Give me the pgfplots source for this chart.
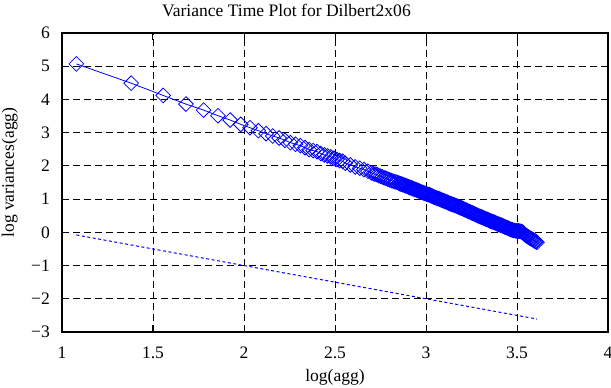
\documentclass[border=0pt]{standalone}
\usepackage{fontspec}
\setmainfont{Liberation Serif}
\usepackage{pgfplots}
\pgfplotsset{compat=1.18}
\usetikzlibrary{calc}
\definecolor{pblue}{RGB}{0,0,255}
\begin{document}
\fontsize{17.6}{20}\selectfont
\begin{tikzpicture}
\begin{axis}[
  name=ax,
  scale only axis=true,
  width=546bp, height=299bp,
  xmin=1, xmax=4, ymin=-3, ymax=6,
  xtick={1,1.5,2,2.5,3,3.5,4},
  xticklabels={1,1.5,2,2.5,3,3.5,4},
  ytick={-3,-2,-1,0,1,2,3,4,5,6},
  yticklabels={−3,−2,−1,0,1,2,3,4,5,6},
  tick pos=both,
  tick align=inside,
  major tick length=7bp,
  every tick/.style={black, line width=1bp},
  axis line style={black, line width=1.3bp},
  grid=major,
  major grid style={black, line width=0.9bp, dash pattern=on 7bp off 4bp},
  xticklabel style={anchor=base, yshift=-26bp, inner sep=0pt},
  yticklabel style={anchor=east, xshift=-12bp, inner sep=0pt},
  every axis title shift=0pt,
  title={Variance Time Plot for Dilbert2x06},
  title style={at={(axis description cs:0.411,1.054)}, anchor=base, inner sep=0pt},
  xlabel={log(agg)},
  xlabel style={at={(axis description cs:0.5,-0.164)}, anchor=base, inner sep=0pt},
  ylabel={log variances(agg)},
  ylabel style={at={(axis description cs:-0.088,0.533)}, anchor=base, inner sep=0pt},
  clip=false,
  mymark/.style={mark=square, mark options={rotate=45, solid, line width=0.8bp, fill=none}, mark size=5.2bp},
]
\addplot[pblue, line width=0.8bp, mymark] coordinates {
(1.079,5.07) (1.380,4.49) (1.556,4.12) (1.681,3.86) (1.778,3.68) (1.857,3.51)
(1.924,3.38) (1.982,3.25) (2.033,3.15) (2.079,3.06) (2.121,2.97) (2.158,2.90)
(2.193,2.84) (2.225,2.77) (2.255,2.70) (2.283,2.65) (2.310,2.61) (2.335,2.55)
(2.358,2.49) (2.380,2.46) (2.401,2.43) (2.422,2.37) (2.441,2.33) (2.459,2.30)
(2.477,2.27) (2.494,2.23) (2.511,2.19) (2.526,2.16) (2.542,2.14) (2.556,2.08)
(2.584,2.03) (2.611,1.97) (2.636,1.93) (2.659,1.89) (2.681,1.84)
(2.70,1.79) (2.71,1.77) (2.72,1.75) (2.73,1.74) (2.74,1.71) (2.75,1.69)
(2.76,1.67) (2.77,1.64) (2.78,1.63) (2.79,1.60) (2.80,1.58) (2.81,1.56)
(2.82,1.54) (2.83,1.52) (2.84,1.51) (2.85,1.48) (2.86,1.46) (2.87,1.44)
(2.88,1.42) (2.89,1.40) (2.90,1.38) (2.91,1.35) (2.92,1.34) (2.93,1.31)
(2.94,1.29) (2.95,1.27) (2.96,1.25) (2.97,1.22) (2.98,1.20) (2.99,1.18)
(3.00,1.16) (3.01,1.14) (3.02,1.13) (3.03,1.10) (3.04,1.07) (3.05,1.05)
(3.06,1.03) (3.07,1.01) (3.08,0.99) (3.09,0.96) (3.10,0.94) (3.11,0.92)
(3.12,0.90) (3.13,0.87) (3.14,0.85) (3.15,0.83) (3.16,0.81) (3.17,0.79)
(3.18,0.76) (3.19,0.74) (3.20,0.72) (3.21,0.69) (3.22,0.67) (3.23,0.64)
(3.24,0.62) (3.25,0.59) (3.26,0.57) (3.27,0.54) (3.28,0.52) (3.29,0.49)
(3.30,0.47) (3.31,0.45) (3.32,0.42) (3.33,0.40) (3.34,0.38) (3.35,0.35)
(3.36,0.33) (3.37,0.31) (3.38,0.29) (3.39,0.26) (3.40,0.24) (3.41,0.22)
(3.42,0.20) (3.43,0.17) (3.44,0.15) (3.45,0.13) (3.46,0.10) (3.47,0.08)
(3.48,0.06) (3.49,0.05) (3.50,0.04) (3.51,0.04) (3.52,0.03) (3.53,0.01)
(3.54,-0.05) (3.55,-0.10) (3.56,-0.13) (3.57,-0.17) (3.58,-0.20) (3.59,-0.23)
(3.60,-0.27) (3.61,-0.30)
};
\addplot[pblue, only marks, mymark] coordinates {
(2.855,1.47) (2.865,1.45) (2.875,1.43) (2.885,1.41) (2.895,1.39) (2.905,1.37)
(2.915,1.345) (2.925,1.32) (2.935,1.30) (2.945,1.28) (2.955,1.26) (2.965,1.235)
(2.975,1.21) (2.985,1.19) (2.995,1.17) (3.005,1.15) (3.015,1.13) (3.025,1.11)
(3.035,1.085) (3.045,1.06) (3.055,1.04) (3.065,1.02) (3.075,1.00) (3.085,0.975)
(3.095,0.95) (3.105,0.93) (3.115,0.91) (3.125,0.885) (3.135,0.86) (3.145,0.84)
(3.155,0.82) (3.165,0.80) (3.175,0.775) (3.185,0.75) (3.195,0.73) (3.205,0.705)
(3.215,0.68) (3.225,0.655) (3.235,0.63) (3.245,0.605) (3.255,0.58) (3.265,0.555)
(3.275,0.53) (3.285,0.505) (3.295,0.48) (3.305,0.46) (3.315,0.435) (3.325,0.41)
(3.335,0.39) (3.345,0.365) (3.355,0.34) (3.365,0.32) (3.375,0.30) (3.385,0.275)
(3.395,0.25) (3.405,0.23) (3.415,0.21) (3.425,0.185) (3.435,0.16) (3.445,0.14)
(3.455,0.115) (3.465,0.09) (3.475,0.07) (3.485,0.055) (3.495,0.045) (3.505,0.04)
(3.515,0.035) (3.525,0.02) (3.535,-0.02) (3.545,-0.08) (3.555,-0.115) (3.565,-0.15)
(3.575,-0.185) (3.585,-0.215) (3.595,-0.25) (3.605,-0.285)
};
\addplot[pblue, line width=1bp, dash pattern=on 3bp off 2.5bp, no marks] coordinates {
(1.079,-0.079) (3.61,-2.61)
};
\end{axis}
\pgfresetboundingbox
\path[use as bounding box] ($(ax.south west)+(-62bp,-56bp)$) rectangle ($(ax.north east)+(3bp,33bp)$);
\end{tikzpicture}
\end{document}
